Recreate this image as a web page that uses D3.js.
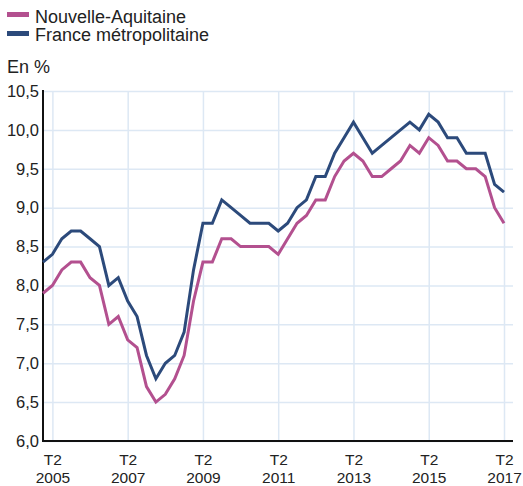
<!DOCTYPE html>
<html><head><meta charset="utf-8">
<script src="https://cdn.jsdelivr.net/npm/d3@7"></script>
<style>
body{margin:0;background:#fff;}
svg{font-family:"Liberation Sans",Arial,sans-serif;}
</style></head>
<body><svg id="c" width="523" height="486"></svg>
<script>
const quarters = ["2005T1","2005T2","2005T3","2005T4","2006T1","2006T2","2006T3","2006T4",
"2007T1","2007T2","2007T3","2007T4","2008T1","2008T2","2008T3","2008T4",
"2009T1","2009T2","2009T3","2009T4","2010T1","2010T2","2010T3","2010T4",
"2011T1","2011T2","2011T3","2011T4","2012T1","2012T2","2012T3","2012T4",
"2013T1","2013T2","2013T3","2013T4","2014T1","2014T2","2014T3","2014T4",
"2015T1","2015T2","2015T3","2015T4","2016T1","2016T2","2016T3","2016T4",
"2017T1","2017T2"];
const nouvelleAquitaine = [7.9,8.0,8.2,8.3,8.3,8.1,8.0,7.5,7.6,7.3,7.2,6.7,6.5,6.6,6.8,7.1,
7.8,8.3,8.3,8.6,8.6,8.5,8.5,8.5,8.5,8.4,8.6,8.8,8.9,9.1,9.1,9.4,9.6,9.7,9.6,9.4,9.4,9.5,9.6,9.8,
9.7,9.9,9.8,9.6,9.6,9.5,9.5,9.4,9.0,8.8];
const franceMetro = [8.3,8.4,8.6,8.7,8.7,8.6,8.5,8.0,8.1,7.8,7.6,7.1,6.8,7.0,7.1,7.4,
8.2,8.8,8.8,9.1,9.0,8.9,8.8,8.8,8.8,8.7,8.8,9.0,9.1,9.4,9.4,9.7,9.9,10.1,9.9,9.7,9.8,9.9,10.0,10.1,
10.0,10.2,10.1,9.9,9.9,9.7,9.7,9.7,9.3,9.2];
const xTicks = ["2005T2","2007T2","2009T2","2011T2","2013T2","2015T2","2017T2"];
const yTicks = [6.0,6.5,7.0,7.5,8.0,8.5,9.0,9.5,10.0,10.5];
const seriesNames = ["Nouvelle-Aquitaine","France métropolitaine"];
const colors = ["#b3508f","#2c4a7b"];

const svg = d3.select("#c");
const mLeft = 43, mRight = 513, mTop = 91, mBottom = 441;
const x = d3.scalePoint().domain(quarters).range([mLeft, 504]);
const y = d3.scaleLinear().domain([6.0, 10.5]).range([mBottom, mTop]);
const fmt = d => d.toFixed(1).replace(".", ",");

// horizontal grid
const gy = svg.append("g").attr("transform", `translate(${mLeft},0)`)
  .call(d3.axisLeft(y).tickValues(yTicks).tickSize(-(mRight-mLeft)).tickFormat(fmt).tickPadding(4));
gy.select(".domain").remove();
gy.selectAll(".tick line").attr("stroke", "#dde8f4").attr("stroke-width", 1.5);
gy.selectAll(".tick text").attr("font-size", 16.5).attr("fill", "#222")
  .attr("font-family", "Liberation Sans, Arial, sans-serif");

// vertical grid + x labels
const gx = svg.append("g").attr("transform", `translate(0,${mBottom})`)
  .call(d3.axisBottom(x).tickValues(xTicks).tickSize(-(mBottom-mTop)).tickPadding(6).tickFormat(""));
gx.select(".domain").remove();
gx.selectAll(".tick line").attr("stroke", "#dde8f4").attr("stroke-width", 1.5);
gx.selectAll(".tick").each(function(d){
  const g = d3.select(this);
  g.append("text").attr("fill", "#222").attr("font-size", 15.5).attr("text-anchor", "middle")
    .attr("y", 24).text("T" + d.split("T")[1]);
  g.append("text").attr("fill", "#222").attr("font-size", 15.5).attr("text-anchor", "middle")
    .attr("y", 41.5).text(d.split("T")[0]);
});

// axes lines
svg.append("line").attr("x1", mLeft).attr("x2", mLeft).attr("y1", mTop - 1).attr("y2", mBottom)
  .attr("stroke", "#111").attr("stroke-width", 2);
svg.append("line").attr("x1", mLeft - 1).attr("x2", mRight).attr("y1", mBottom).attr("y2", mBottom)
  .attr("stroke", "#111").attr("stroke-width", 2);

// lines
const line = d3.line().x((d, i) => x(quarters[i])).y(d => y(d));
[nouvelleAquitaine, franceMetro].forEach((s, k) => {
  svg.append("path").datum(s).attr("d", line).attr("fill", "none")
    .attr("stroke", colors[k]).attr("stroke-width", 3).attr("stroke-linejoin", "miter");
});

// legend
seriesNames.forEach((n, k) => {
  svg.append("rect").attr("x", 7).attr("y", 12 + k*19).attr("width", 22).attr("height", 5).attr("fill", colors[k]);
  svg.append("text").attr("x", 35).attr("y", 22.5 + k*18.5).attr("font-size", 18).attr("fill", "#222").text(n);
});
svg.append("text").attr("x", 7).attr("y", 73).attr("font-size", 18).attr("fill", "#222").text("En %");
</script></body></html>
